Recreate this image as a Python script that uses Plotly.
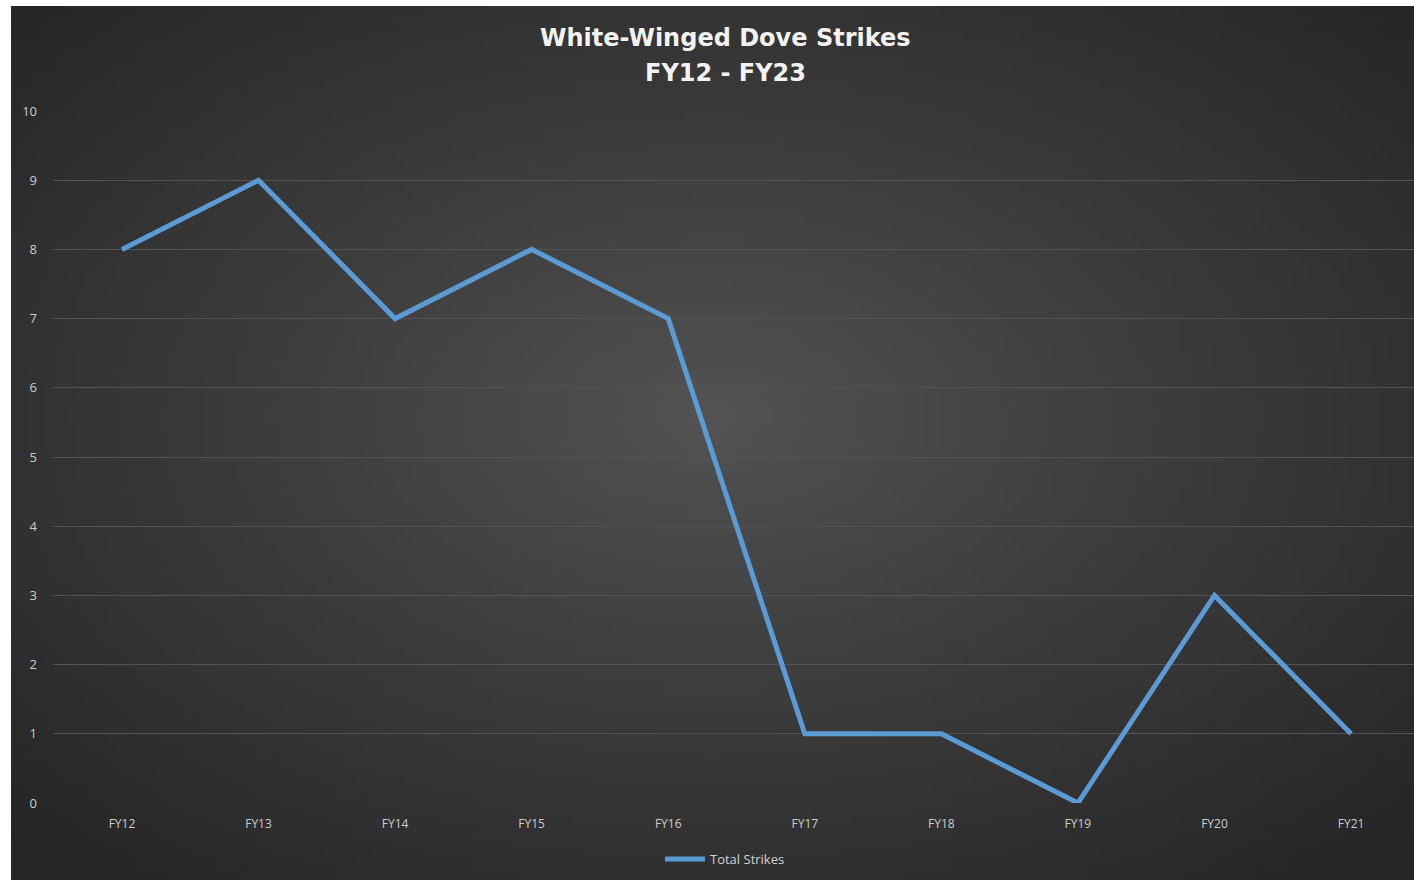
import base64
import struct
import zlib

import numpy as np
import plotly.graph_objects as go

# Annual white-winged dove strike counts
fiscal_years = ["FY12", "FY13", "FY14", "FY15", "FY16", "FY17", "FY18", "FY19", "FY20", "FY21"]
total_strikes = [8, 9, 7, 8, 7, 1, 1, 0, 3, 1]
y_ticks = list(range(0, 11))
title_lines = ["White-Winged Dove Strikes", "FY12 - FY23"]

W, H = 1414, 880
# plot area in pixels
PL, PR, PT, PB = 53, 1414, 111, 803
# dark chart panel in pixels
BL, BT, BR, BB = 11, 6, 1414, 880


def radial_png(w, h):
    """Radial grey gradient encoded as a PNG data URI."""
    yy, xx = np.mgrid[0:h, 0:w]
    cx, cy = (w - 1) * 0.5, (h - 1) * 0.47
    r = np.sqrt(((xx - cx) / (w / 2)) ** 2 + ((yy - cy) / (h / 2)) ** 2) / np.sqrt(2)
    r = np.clip(r, 0, 1)
    inner, outer = 84.0, 37.0
    v = inner + (outer - inner) * r ** 0.9
    img = np.clip(v, 0, 255).astype(np.uint8)
    rgb = np.stack([img, img, img], axis=-1)
    raw = b"".join(b"\x00" + rgb[i].tobytes() for i in range(h))

    def chunk(tag, data):
        c = struct.pack(">I", len(data)) + tag + data
        return c + struct.pack(">I", zlib.crc32(tag + data) & 0xFFFFFFFF)

    png = b"\x89PNG\r\n\x1a\n"
    png += chunk(b"IHDR", struct.pack(">IIBBBBB", w, h, 8, 2, 0, 0, 0))
    png += chunk(b"IDAT", zlib.compress(raw, 9))
    png += chunk(b"IEND", b"")
    return "data:image/png;base64," + base64.b64encode(png).decode()


pw, ph = PR - PL, PB - PT


def px_x(px):
    return (px - PL) / pw


def px_y(py):
    return (PB - py) / ph


bg_x0 = px_x(BL)
bg_y1 = px_y(BT)
bg_y0 = px_y(BB)

fig = go.Figure()
fig.add_trace(go.Scatter(
    x=list(range(len(fiscal_years))),
    y=total_strikes,
    mode="lines",
    name="Total Strikes",
    line=dict(color="#5b9bd5", width=5),
))

title_font = dict(family="'DejaVu Sans', sans-serif", size=24, color="#f2f2f2", weight="bold")
annotations = [
    dict(text=title_lines[0], x=px_x(725), y=px_y(38)),
    dict(text=title_lines[1], x=px_x(725), y=px_y(73)),
]
for a in annotations:
    a.update(xref="paper", yref="paper", xanchor="center", yanchor="middle",
             showarrow=False, font=title_font)

fig.update_layout(
    width=W,
    height=H,
    margin=dict(l=PL, r=W - PR, t=PT, b=H - PB, pad=0),
    paper_bgcolor="white",
    plot_bgcolor="rgba(0,0,0,0)",
    font=dict(family="'Open Sans', Lato, sans-serif", color="#bfbfbf"),
    annotations=annotations,
    images=[dict(
        source=radial_png(141, 87),
        xref="paper", yref="paper",
        x=bg_x0, y=bg_y1,
        sizex=1 - bg_x0, sizey=bg_y1 - bg_y0,
        xanchor="left", yanchor="top",
        sizing="stretch",
        layer="below",
    )],
    showlegend=True,
    legend=dict(
        orientation="h",
        x=px_x(725),
        xanchor="center",
        y=px_y(859),
        yanchor="middle",
        bgcolor="rgba(0,0,0,0)",
        font=dict(size=13, color="#d0d0d0"),
        itemwidth=40,
    ),
)

fig.update_xaxes(
    range=[-0.505, 9.461],
    tickmode="array",
    tickvals=list(range(len(fiscal_years))),
    ticktext=fiscal_years,
    showgrid=False,
    zeroline=False,
    showline=False,
    ticks="",
    ticklabelstandoff=12,
    tickfont=dict(size=12, color="#cccccc"),
)
fig.update_yaxes(
    range=[0, 10],
    tickmode="array",
    tickvals=y_ticks,
    showgrid=True,
    gridcolor="#535353",
    gridwidth=1,
    zeroline=False,
    showline=False,
    ticks="",
    ticklabelstandoff=15,
    tickfont=dict(size=13, color="#cccccc"),
)

fig.write_html("out.html")
